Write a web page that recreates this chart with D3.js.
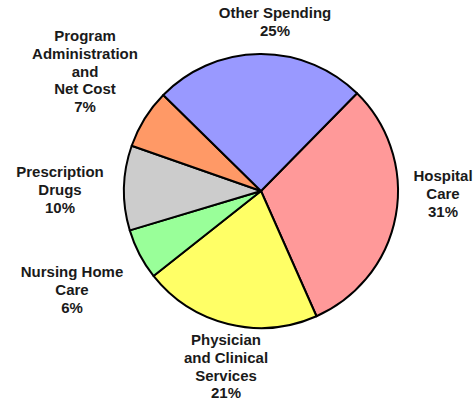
<!DOCTYPE html>
<html>
<head>
<meta charset="utf-8">
<script src="https://cdn.jsdelivr.net/npm/d3@7"></script>
<style>
  body { margin: 0; background: #fff; }
  svg { display: block; }
  text { font-family: "Liberation Sans", Arial, sans-serif; font-weight: bold; font-size: 15px; fill: #1a1a1a; }
</style>
</head>
<body>
<svg width="475" height="403"></svg>
<script>
// 数据：各项支出占比（顺时针，从右上开始）
const categories = ["Hospital Care", "Physician and Clinical Services", "Nursing Home Care",
  "Prescription Drugs", "Program Administration and Net Cost", "Other Spending"];
const values = [31, 21, 6, 10, 7, 25];
const labelLines = [
  ["Hospital", "Care"],
  ["Physician", "and Clinical", "Services"],
  ["Nursing Home", "Care"],
  ["Prescription", "Drugs"],
  ["Program", "Administration", "and", "Net Cost"],
  ["Other Spending"],
];
const colors = ["#ff9999", "#ffff66", "#99ff99", "#cccccc", "#ff9966", "#9999ff"];

// 标签位置（第一行基线）
const labelPos = [
  [443, 181], [226, 345], [72, 277], [60, 177], [85, 41], [275, 18],
];

const svg = d3.select("svg");
const cx = 261, cy = 191, r = 137;
const start = 44.5 * Math.PI / 180;

const pie = d3.pie().sort(null).value((d) => d)
  .startAngle(start).endAngle(start + 2 * Math.PI);
const arc = d3.arc().innerRadius(0).outerRadius(r);

const g = svg.append("g").attr("transform", `translate(${cx},${cy})`);

g.selectAll("path")
  .data(pie(values))
  .enter()
  .append("path")
  .attr("d", arc)
  .attr("fill", (d, i) => colors[i])
  .attr("stroke", "#000")
  .attr("stroke-width", 2)
  .attr("stroke-linejoin", "round");

// 标签
const labels = svg.selectAll(".label")
  .data(categories)
  .enter()
  .append("text")
  .attr("class", "label")
  .attr("text-anchor", "middle")
  .attr("x", (d, i) => labelPos[i][0])
  .attr("y", (d, i) => labelPos[i][1]);

labels.each(function (d, i) {
  const t = d3.select(this);
  const lines = labelLines[i].concat([values[i] + "%"]);
  lines.forEach((line, j) => {
    t.append("tspan")
      .attr("x", labelPos[i][0])
      .attr("dy", j === 0 ? 0 : 17.8)
      .text(line);
  });
});
</script>
</body>
</html>
